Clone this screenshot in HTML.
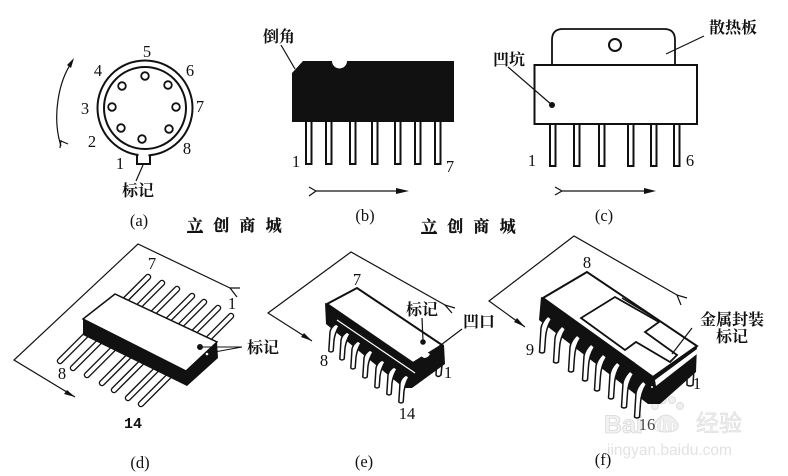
<!DOCTYPE html>
<html><head><meta charset="utf-8"><style>
html,body{margin:0;padding:0;background:#fff}
svg{display:block}
text{font-family:"Liberation Serif","Noto Serif CJK SC",serif;fill:#111}
.n{font-size:16.500px;text-anchor:middle}
.m{font-size:16px;font-weight:700;text-anchor:middle}
.cap{font-size:16.500px;text-anchor:middle}
.l{fill:none;stroke:#111;stroke-width:1.2}
.o{fill:#fff;stroke:#111;stroke-width:1.8}
.wm{font-size:16px;font-weight:700;letter-spacing:10.200px;stroke:#111;stroke-width:.3}
</style></head><body>
<svg width="788" height="476" viewBox="0 0 788 476" xmlns="http://www.w3.org/2000/svg">
<defs>
<path id="le" d="M-2.200,0 L-1,-19 Q0,-24 5,-27 L8,-25 Q4,-18 3,-11 L2.200,0 Q0,2 -2.200,0 Z" fill="#fff" stroke="#111" stroke-width="1.500" stroke-linejoin="round"/>
<path id="lf" d="M-2.500,0 L-1,-24 Q0,-30 6,-36 L9.500,-33 Q4,-24 3.500,-14 L2.500,0 Q0,2 -2.500,0 Z" fill="#fff" stroke="#111" stroke-width="1.500" stroke-linejoin="round"/>
<g id="pd"><line x1="0" y1="0" x2="-24" y2="24" stroke="#111" stroke-width="6.500" stroke-linecap="round"/><line x1="0" y1="0" x2="-24" y2="24" stroke="#fff" stroke-width="3.800" stroke-linecap="round"/></g>
<g id="pf"><line x1="0" y1="0" x2="31" y2="-31" stroke="#111" stroke-width="6.500" stroke-linecap="round"/><line x1="0" y1="0" x2="31" y2="-31" stroke="#fff" stroke-width="3.800" stroke-linecap="round"/></g>
</defs>

<!-- (a) -->
<path d="M137,154 V164 H150 V154" fill="#fff" stroke="#111" stroke-width="2"/>
<circle cx="145" cy="108" r="47.500" fill="#fff" stroke="#111" stroke-width="2"/>
<circle cx="145" cy="108" r="41" fill="#fff" stroke="#111" stroke-width="2"/>
<rect x="138.500" y="153" width="10" height="4" fill="#fff"/>
<g fill="#fff" stroke="#111" stroke-width="1.800">
<circle cx="145" cy="76" r="3.800"/><circle cx="168" cy="85" r="3.800"/><circle cx="176" cy="107" r="3.800"/><circle cx="169" cy="129" r="3.800"/><circle cx="142" cy="139" r="3.800"/><circle cx="121" cy="128" r="3.800"/><circle cx="112" cy="107" r="3.800"/><circle cx="122" cy="86" r="3.800"/>
</g>
<path class="l" d="M61,146 C52,118 58,82 72,62"/>
<path d="M74,58 L71,68 L67,65 Z" fill="#111"/>
<path class="l" d="M61,140 L60,148 M61,141 L68,144"/>
<line class="l" x1="143" y1="165" x2="136" y2="181"/>
<g class="n">
<text x="147" y="57">5</text><text x="190" y="76">6</text><text x="200" y="112">7</text><text x="187" y="154">8</text><text x="120" y="169">1</text><text x="92" y="147">2</text><text x="85" y="114">3</text><text x="98" y="76">4</text>
</g>
<text class="m" x="138" y="196">标记</text>
<text class="cap" x="139" y="226">(a)</text>

<!-- (b) -->
<g fill="#fff" stroke="#111" stroke-width="2">
<rect x="306" y="120" width="5.500" height="44"/><rect x="326" y="120" width="5.500" height="44"/><rect x="350" y="120" width="5.500" height="44"/><rect x="372" y="120" width="5.500" height="44"/><rect x="395" y="120" width="5.500" height="44"/><rect x="415" y="120" width="5.500" height="44"/><rect x="435" y="120" width="5.500" height="44"/>
</g>
<path d="M292,73 L303,61 H332 A7.500,7.500 0 0 0 347,61 H454 V122 H292 Z" fill="#111"/>
<line class="l" x1="281" y1="45" x2="295" y2="69"/>
<path class="l" d="M309,187 L316,191 L309,196 M316,191 H400"/>
<path d="M396,188 L409,191 L396,194 Z" fill="#111"/>
<text class="m" x="279" y="42">倒角</text>
<text class="n" x="296" y="167">1</text><text class="n" x="450" y="172">7</text>
<text class="cap" x="365" y="221">(b)</text>

<!-- (c) -->
<path class="o" d="M552,65 V40 Q552,29 563,29 H664 Q675,29 675,40 V65"/>
<circle cx="615" cy="45" r="6" fill="#fff" stroke="#111" stroke-width="2"/>
<g fill="#fff" stroke="#111" stroke-width="2">
<rect x="550" y="124" width="5.500" height="42"/><rect x="574" y="124" width="5.500" height="42"/><rect x="599" y="124" width="5.500" height="42"/><rect x="628" y="124" width="5.500" height="42"/><rect x="651" y="124" width="5.500" height="42"/><rect x="674" y="124" width="5.500" height="42"/>
</g>
<rect x="534.500" y="65" width="162.500" height="59" fill="#fff" stroke="#111" stroke-width="2"/>
<circle cx="552" cy="105" r="3" fill="#111"/>
<line class="l" x1="508" y1="67" x2="552" y2="105"/>
<line class="l" x1="704" y1="36" x2="666" y2="54"/>
<path class="l" d="M555,187 L562,191 L555,195 M562,191 H648"/>
<path d="M644,188 L656,191 L644,194 Z" fill="#111"/>
<text class="m" x="509" y="65">凹坑</text>
<text class="m" x="733" y="33">散热板</text>
<text class="n" x="532" y="166">1</text><text class="n" x="690" y="166">6</text>
<text class="cap" x="604" y="221">(c)</text>

<!-- captions -->
<text class="wm" x="187" y="231">立创商城</text>
<text class="wm" x="421" y="232">立创商城</text>
<rect x="187" y="231.500" width="16" height="1.500" fill="#111"/>
<rect x="421" y="232.500" width="16" height="1.500" fill="#111"/>

<!-- (d) -->
<path class="l" d="M230,288 L138,244 L14,360 L75,397"/>
<path d="M75,397 L64,394 L67,390 Z" fill="#111"/>
<path class="l" d="M240,288 L230,288 L237,297"/>
<use href="#pd" x="148" y="277"/><use href="#pd" x="162" y="283"/><use href="#pd" x="177" y="289"/><use href="#pd" x="192" y="296"/><use href="#pd" x="204" y="302"/><use href="#pd" x="218" y="308"/><use href="#pd" x="231" y="316"/>
<use href="#pf" x="60" y="361"/><use href="#pf" x="73" y="368"/><use href="#pf" x="87" y="375"/><use href="#pf" x="102" y="383"/><use href="#pf" x="114" y="390"/><use href="#pf" x="128" y="398"/><use href="#pf" x="141" y="404"/>
<path d="M83,319 L83,335 L187,386 L218,358 L217,342 Z" fill="#111"/>
<path d="M115,294 L83,319 L186,371 L217,342 Z" fill="#fff" stroke="#111" stroke-width="1.500"/>
<circle cx="200" cy="347" r="3" fill="#111"/>
<circle cx="207" cy="354" r="1.300" fill="#fff"/>
<path d="M242,347 L203,347 M242,347 L209,353" stroke="#111" stroke-width="1.100" fill="none"/>
<text class="m" x="263" y="353">标记</text>
<text class="n" x="152" y="269">7</text><text class="n" x="232" y="309">1</text><text class="n" x="62" y="379">8</text>
<text x="133" y="428" text-anchor="middle" style="font-size:15px;font-weight:700;font-family:'Liberation Mono',monospace">14</text>
<text class="cap" x="140" y="468">(d)</text>

<!-- (e) -->
<path class="l" d="M445,305 L351,252 L268,313 L312,341"/>
<path d="M312,341 L301,337 L304,333 Z" fill="#111"/>
<path class="l" d="M455,308 L445,305 L452,313"/>
<path d="M436,375 L437,355 L443,355 L441,375 Q438,378 436,375 Z" fill="#fff" stroke="#111" stroke-width="1.500"/>
<path d="M325,303 L326,324 L404,388 L412,388 L445,364 L444,345 Z" fill="#111"/>
<use href="#le" x="331" y="351"/><use href="#le" x="342" y="359"/><use href="#le" x="353" y="368"/><use href="#le" x="365" y="377"/><use href="#le" x="377" y="387"/><use href="#le" x="389" y="394"/><use href="#le" x="401" y="402"/>
<path d="M357,288 L327,304 L413,363 L442,345 Z" fill="#fff" stroke="#111" stroke-width="2"/>
<line x1="337" y1="320" x2="415" y2="373" stroke="#fff" stroke-width="1.200"/>
<path d="M413,363 L442,345 L444,352 L424,365 Z" fill="#111"/>
<path d="M420,352 Q424,350 430,354 Q428,358 424,358 Q420,356 420,352 Z" fill="#fff"/>
<circle cx="423" cy="342" r="2.800" fill="#111"/>
<line class="l" x1="422" y1="318" x2="423" y2="341"/>
<line class="l" x1="462" y1="329" x2="433" y2="351"/>
<text class="m" x="422" y="315">标记</text><text class="m" x="479" y="327">凹口</text>
<text class="n" x="357" y="285">7</text><text class="n" x="324" y="366">8</text><text class="n" x="448" y="378">1</text><text class="n" x="407" y="419">14</text>
<text class="cap" x="364" y="467">(e)</text>

<!-- baidu watermark -->
<g fill="#f0f0f0" stroke="#dedede" stroke-width="1">
<path d="M654,424 Q666,406 678,424 Q680,432 666,432 Q652,432 654,424 Z"/><circle cx="655" cy="406" r="3.500"/><circle cx="663" cy="400" r="3.500"/><circle cx="672" cy="400" r="3.500"/><circle cx="680" cy="406" r="3.500"/>
</g>
<text x="604" y="433" style="font-family:'Liberation Sans',sans-serif;font-size:25px;font-weight:700;fill:#f2f2f2;stroke:#d8d8d8;stroke-width:.8">Bai</text>
<text x="654" y="431" style="font-family:'Liberation Sans',sans-serif;font-size:17px;font-weight:700;fill:#fff;stroke:#dcdcdc;stroke-width:.6">du</text>
<text x="696" y="431" style="font-family:'Noto Sans CJK SC',sans-serif;font-size:23px;fill:#eeeeee;stroke:#d8d8d8;stroke-width:.5">经验</text>
<text x="607" y="455" style="font-family:'Liberation Sans',sans-serif;font-size:15.500px;fill:#e2e2e2">jingyan.baidu.com</text>

<!-- (f) -->
<path class="l" d="M677,295 L574,236 L489,301 L525,327"/>
<path d="M525,327 L514,322 L517,318 Z" fill="#111"/>
<path class="l" d="M687,298 L677,295 L681,305"/>
<path d="M687,385 L687,368 L694,368 L693,385 Q690,387 687,385 Z" fill="#fff" stroke="#111" stroke-width="1.500"/>
<path d="M541,297 L539,320 L648,404 L660,404 L696,372 L697,346 Z" fill="#111"/>
<use href="#lf" x="542" y="352"/><use href="#lf" x="556" y="362"/><use href="#lf" x="571" y="371"/><use href="#lf" x="585" y="380"/><use href="#lf" x="597" y="390"/><use href="#lf" x="611" y="398"/><use href="#lf" x="624" y="407"/><use href="#lf" x="637" y="417"/>
<path d="M587,272 L543,298 L653,377 L697,346 Z" fill="#fff" stroke="#111" stroke-width="2"/>
<path d="M655,380 L697,349 L697,354 L656,386 Z" fill="#fff"/>
<circle cx="652" cy="387" r="1" fill="#fff"/>
<path d="M615,297 L581,318 L625,350 L636,342 L670,362 L677,355 L645,332 L659,322 Z" fill="#fff" stroke="#111" stroke-width="1.800"/>
<line x1="622" y1="298" x2="660" y2="321" stroke="#111" stroke-width="1.500"/>
<line class="l" x1="692" y1="328" x2="672" y2="354"/>
<text class="m" x="732" y="325">金属封装</text><text class="m" x="732" y="342">标记</text>
<text class="n" x="587" y="268">8</text><text class="n" x="530" y="355">9</text><text class="n" x="697" y="389">1</text>
<text class="n" x="647" y="430" style="fill:#444">16</text>
<text class="cap" x="603" y="465">(f)</text>
</svg>
</body></html>
